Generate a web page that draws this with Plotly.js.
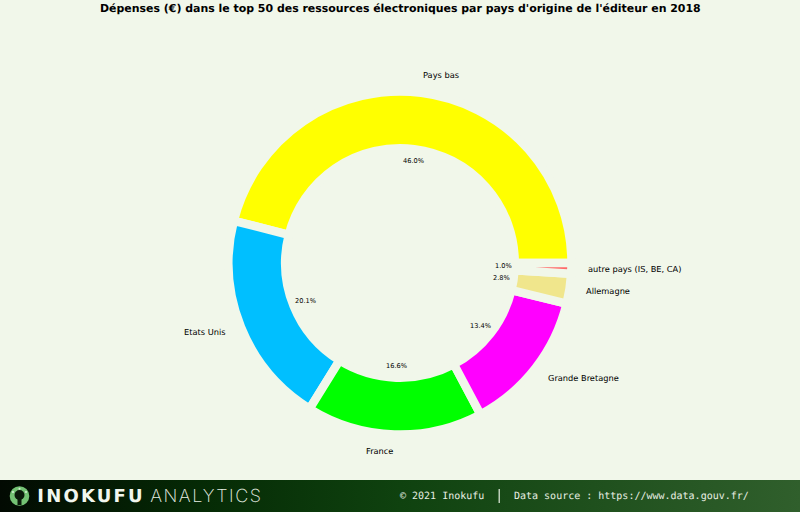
<!DOCTYPE html>
<html><head><meta charset="utf-8">
<script src="https://cdn.plot.ly/plotly-3.0.1.min.js"></script>
<style>html,body{margin:0;padding:0;background:#f1f7ea;overflow:hidden}#c{width:800px;height:512px}
#c text{text-rendering:geometricPrecision}</style>
</head><body><div id="c"></div>
<script>
const categories = ['Pays bas','Etats Unis','France','Grande Bretagne','Allemagne','autre pays (IS, BE, CA)'];
const shares = [46.0,20.1,16.6,13.4,2.8,1.0];
const sliceColors = ['#ffff00','#00bfff','#00ff00','#ff00ff','#f0e68c','#ff6a6a'];
const shareLabels = ['46.0%','20.1%','16.6%','13.4%','2.8%','1.0%'];
const titleText = "Dépenses (€) dans le top 50 des ressources électroniques par pays d'origine de l'éditeur en 2018";

const W=800,H=512,BG='#f1f7ea';
const cx=400,cy=263,R=171.5;
const px=x=>x/W, py=y=>1-y/H;
const catPos=[[441,75],[205,332],[379,451],[583,378],[608,291],[634,269]];
const pctPos=[[413,161],[305,301],[396,366],[481,326],[501,278],[503,266]];
const ann=(t,x,y,font)=>({text:t,x:px(x),y:py(y),xref:'paper',yref:'paper',showarrow:false,xanchor:'center',yanchor:'middle',font});
const annotations=[];
categories.forEach((c,i)=>annotations.push(ann(c,catPos[i][0],catPos[i][1],{family:'DejaVu Sans',size:8.25,color:'#000'})));
shareLabels.forEach((c,i)=>annotations.push(ann(c,pctPos[i][0],pctPos[i][1],{family:'DejaVu Sans',size:6.6,color:'#000'})));
annotations.push(ann(titleText,400,8.5,{family:'DejaVu Sans',size:10.95,color:'#000',weight:700}));
annotations.push(ann('INOKUFU',91,495.5,{family:'DejaVu Sans',size:18,color:'#f2f6ee',weight:700}));
annotations.push(ann('ANALYTICS',206,495.5,{family:'Inter',size:18,color:'#e8efe4',weight:200}));
annotations.push(ann('© 2021 Inokufu',442,495.5,{family:'DejaVu Sans Mono',size:10,color:'#e9f0e4'}));
annotations.push(ann('Data source : https://www.data.gouv.fr/',631,495.5,{family:'DejaVu Sans Mono',size:10,color:'#e9f0e4'}));

const grad='data:image/svg+xml;utf8,'+encodeURIComponent('<svg xmlns="http://www.w3.org/2000/svg" width="800" height="32"><defs><linearGradient id="g" x1="0" x2="1" y1="0" y2="0"><stop offset="0" stop-color="#020a02"/><stop offset="0.25" stop-color="#052a05"/><stop offset="0.5" stop-color="#0f420f"/><stop offset="1" stop-color="#305f2c"/></linearGradient></defs><rect width="800" height="32" fill="url(#g)"/></svg>');

const rect=(x0,y0,x1,y1,o)=>Object.assign({type:'rect',xref:'paper',yref:'paper',x0:px(x0),x1:px(x1),y0:py(y0),y1:py(y1),line:{width:0}},o);
const disc=(x,y,r,c)=>({type:'circle',xref:'paper',yref:'paper',x0:px(x-r),x1:px(x+r),y0:py(y+r),y1:py(y-r),fillcolor:c,line:{width:0}});
const shapes=[
 disc(19.5,496,9.8,'#74c274'),
 disc(19.5,495,5,'#0a1a0a'),
 rect(17.5,497,21.5,505,{fillcolor:'#0a1a0a'}),
 disc(13,492,1,'#d8f0d8'),disc(19.5,488.8,1,'#d8f0d8'),disc(26,492,1,'#d8f0d8'),
 rect(498.6,489,499.8,503,{fillcolor:'#e9f0e4'})
];
const total=shares.reduce((a,b)=>a+b,0);

Plotly.newPlot('c',[{
  type:'pie',labels:categories,values:shares,sort:false,direction:'counterclockwise',rotation:90-shares[0]/total*360,
  hole:0.669,textinfo:'none',showlegend:false,
  marker:{colors:sliceColors,line:{color:BG,width:8.5}},
  domain:{x:[px(cx-R),px(cx+R)],y:[py(cy+R),py(cy-R)]}
}],{
  width:W,height:H,margin:{l:0,r:0,t:0,b:0},paper_bgcolor:BG,showlegend:false,
  annotations,shapes,
  images:[{source:grad,xref:'paper',yref:'paper',x:0,y:py(480),sizex:1,sizey:32/H,xanchor:'left',yanchor:'top',sizing:'stretch',layer:'below'}]
},{displayModeBar:false,staticPlot:true}).then(()=>{
  const spacing={'INOKUFU':'2.2px','ANALYTICS':'1.5px'};
  document.querySelectorAll('#c .annotation-text').forEach(t=>{
    if(spacing[t.textContent]) t.style.letterSpacing=spacing[t.textContent];
  });
});
</script></body></html>
